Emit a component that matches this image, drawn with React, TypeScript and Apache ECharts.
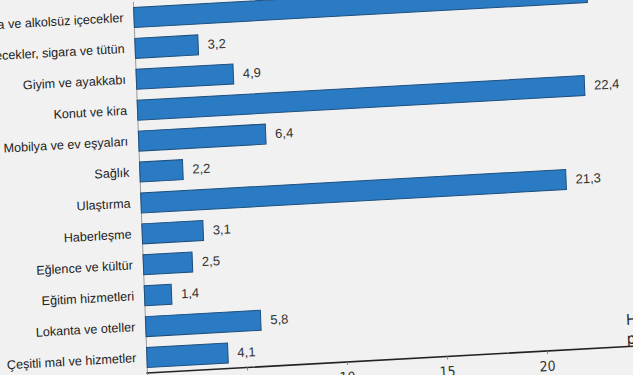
import React, { useEffect, useRef } from "react";
import * as echarts from "echarts";

const categories = [
  "Gıda ve alkolsüz içecekler",
  "Alkollü içecekler, sigara ve tütün",
  "Giyim ve ayakkabı",
  "Konut ve kira",
  "Mobilya ve ev eşyaları",
  "Sağlık",
  "Ulaştırma",
  "Haberleşme",
  "Eğlence ve kültür",
  "Eğitim hizmetleri",
  "Lokanta ve oteller",
  "Çeşitli mal ve hizmetler",
];
const shares = [22.7, 3.2, 4.9, 22.4, 6.4, 2.2, 21.3, 3.1, 2.5, 1.4, 5.8, 4.1];
const axisName = "Harcama\npayı (%)";

export default function App() {
  const ref = useRef<HTMLDivElement>(null);
  useEffect(() => {
    if (!ref.current) return;
    const chart = echarts.init(ref.current, undefined, { renderer: "svg" });
    chart.setOption({
      animation: false,
      backgroundColor: "transparent",
      grid: {
        left: 147,
        top: 2,
        width: 500,
        height: 371,
        containLabel: false,
        outerBoundsMode: "none",
      },
      xAxis: {
        type: "value",
        min: 0,
        max: 25,
        interval: 5,
        axisLine: { show: true, lineStyle: { color: "#222", width: 1.6 } },
        axisTick: { show: true, length: 3, lineStyle: { color: "#888" } },
        splitLine: { show: false },
        axisLabel: {
          margin: 8,
          fontFamily: "DejaVu Sans Condensed",
          fontSize: 14,
          color: "#333",
        },
      },
      yAxis: {
        type: "category",
        inverse: true,
        data: categories,
        axisLine: { show: true, lineStyle: { color: "#9a9a9a", width: 1 } },
        axisTick: { show: false },
        axisLabel: {
          margin: 10,
          fontFamily: "Liberation Sans",
          fontSize: 12.6,
          color: "#222",
        },
      },
      graphic: [
        {
          type: "text",
          left: 627,
          top: 337,
          style: {
            text: axisName,
            fontFamily: "DejaVu Sans Condensed",
            fontSize: 15,
            lineHeight: 19,
            fill: "#222",
          },
        },
      ],
      series: [
        {
          type: "bar",
          data: shares,
          barWidth: 21,
          itemStyle: { color: "#2a7bc3", borderColor: "#1d4f7e", borderWidth: 1 },
          label: {
            show: true,
            position: "right",
            distance: 9,
            fontFamily: "Liberation Sans",
            fontSize: 13,
            color: "#333",
            formatter: (p: any) => String(p.value).replace(".", ","),
          },
        },
      ],
    });
    return () => chart.dispose();
  }, []);

  return (
    <div
      style={{
        position: "fixed",
        left: 0,
        top: 0,
        width: 633,
        height: 375,
        overflow: "hidden",
        background: "#f1f1f1",
      }}
    >
      <div
        style={{
          position: "absolute",
          left: 0,
          top: 0,
          width: 700,
          height: 400,
          transformOrigin: "147px 373px",
          transform: "matrix(1, -0.055, 0.038, 1, 0, 0)",
        }}
      >
        <div ref={ref} style={{ width: 700, height: 400 }} />
      </div>
    </div>
  );
}
